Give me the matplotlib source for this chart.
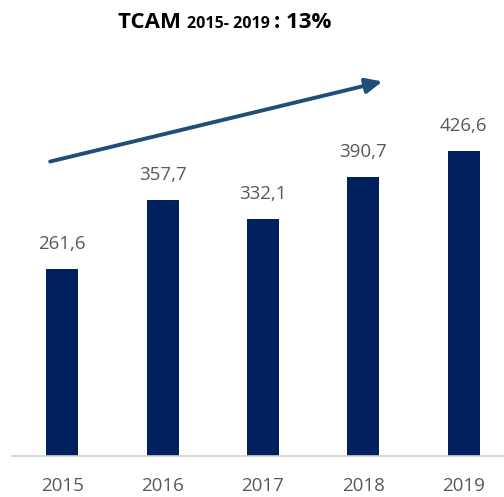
import matplotlib.pyplot as plt

years = ['2015', '2016', '2017', '2018', '2019']
values = [261.6, 357.7, 332.1, 390.7, 426.6]
labels = ['261,6', '357,7', '332,1', '390,7', '426,6']

plt.rcParams['font.family'] = ['Open Sans', 'DejaVu Sans']

fig = plt.figure(figsize=(5.04, 4.97), dpi=100)
ax = fig.add_axes([12 / 504, 41 / 497, 492 / 504, 456 / 497])

x = range(len(years))
ax.bar(x, values, width=0.32, color='#002060', zorder=2)

# value labels above bars
for i, (v, lab) in enumerate(zip(values, labels)):
    ax.text(i, v + 25 / 0.715, lab, ha='center', va='center',
            fontsize=13.5, color='#595959')

ax.set_xlim(-0.5, 4.4)
ax.set_ylim(0, 638)
ax.set_xticks(list(x))
ax.set_xticklabels(years, fontsize=13.5, color='#595959')
ax.tick_params(axis='x', length=0, pad=15)
ax.set_yticks([])
for side in ['top', 'right', 'left']:
    ax.spines[side].set_visible(False)
ax.spines['bottom'].set_color('#d0d0d0')
ax.spines['bottom'].set_linewidth(1.2)

# trend arrow
ax.annotate('', xy=(3.19, 524), xytext=(-0.12, 412),
            arrowprops=dict(arrowstyle='-|>,head_length=1.0,head_width=0.45',
                            color='#1F4E79', lw=2.8, shrinkA=0, shrinkB=0))

# title, pieces of different size on one baseline
title_parts = [('TCAM ', 16), ('2015- 2019 ', 11.5), (': 13%', 16)]
fig.canvas.draw()
renderer = fig.canvas.get_renderer()
xpos = 118
for txt, size in title_parts:
    t = fig.text(xpos / 504, 1 - 28 / 497, txt, ha='left', va='baseline',
                 fontsize=size, fontweight='bold', color='black')
    xpos += t.get_window_extent(renderer).width

fig.savefig('out.png', dpi=100)
